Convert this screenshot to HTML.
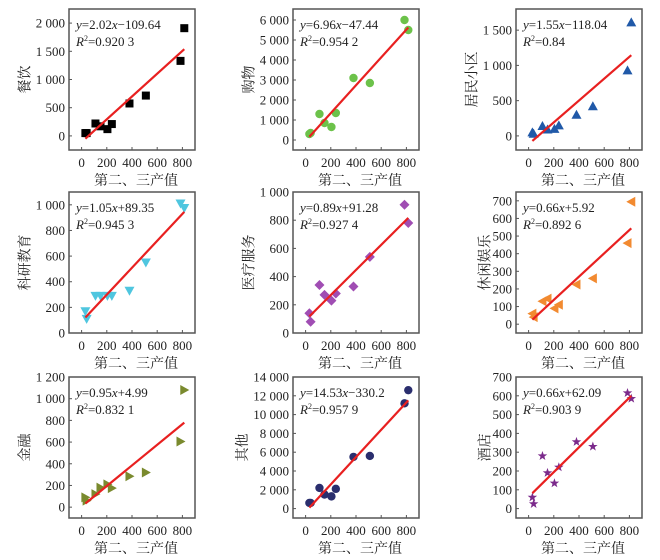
<!DOCTYPE html>
<html><head><meta charset="utf-8"><style>
body{margin:0;background:#fff}
svg text{font-family:"Liberation Serif","Noto Serif CJK SC",serif;fill:#222}
</style></head><body>
<svg id="c" width="660" height="555" xmlns="http://www.w3.org/2000/svg"></svg>
<script>
const xValues=[30,40,110,150,205,240,380,510,785,815];
const xTicks=[0,200,400,600,800];
const titles=["餐饮","购物","居民小区","科研教育","医疗服务","休闲娱乐","金融","其他","酒店"];
const yCatering=[50,50,220,170,120,210,575,715,1330,1910];
const yShopping=[300,350,1300,850,650,1350,3100,2850,6000,5500];
const yResidential=[50,30,140,90,100,150,300,420,930,1610];
const yScience=[170,110,290,290,290,290,330,550,1010,975];
const yMedical=[140,80,340,270,230,280,330,540,910,780];
const yLeisure=[60,40,130,145,90,110,225,260,460,695];
const yFinance=[90,60,120,180,210,175,285,320,605,1080];
const yOther=[600,600,2200,1500,1300,2100,5500,5600,11200,12600];
const yHotel=[60,25,280,190,135,220,355,330,615,585];
const slopes=[2.02,6.96,1.55,1.05,0.89,0.66,0.95,14.53,0.66];
const intercepts=[-109.64,-47.44,-118.04,89.35,91.28,5.92,4.99,-330.2,62.09];
const eqText=["2.02x−109.64","6.96x−47.44","1.55x−118.04","1.05x+89.35","0.89x+91.28","0.66x+5.92","0.95x+4.99","14.53x−330.2","0.66x+62.09"];
const r2Text=["0.920 3","0.954 2","0.84","0.945 3","0.927 4","0.892 6","0.832 1","0.957 9","0.903 9"];
const yTicks=[[0,500,1000,1500,2000],[0,1000,2000,3000,4000,5000,6000],[0,500,1000,1500],[0,200,400,600,800,1000],[0,200,400,600,800,1000],[0,100,200,300,400,500,600,700],[0,200,400,600,800,1000,1200],[0,2000,4000,6000,8000,10000,12000,14000],[0,100,200,300,400,500,600,700]];
const yDomains=[[-250,2250],[-500,6550],[-200,1800],[0,1100],[0,1000],[-50,750],[-100,1200],[-1000,14000],[-50,700]];
const series=[yCatering,yShopping,yResidential,yScience,yMedical,yLeisure,yFinance,yOther,yHotel];
const colors=["#000","#6cc24a","#2059a8","#4fc6df","#a04db3","#f28a30","#7a8a2e","#2a2e6e","#7b2a8b"];
const shapes=["square","circle","tri","tridown","diamond","trileft","triright","circle","star"];
const lefts=[69,293,516],tops=[9,192,377],W=126,H=141;
const svg=document.getElementById('c');const NS="http://www.w3.org/2000/svg";
function el(t,a,p){const e=document.createElementNS(NS,t);for(const k in a)e.setAttribute(k,a[k]);(p||svg).appendChild(e);return e;}
function fmt(v){return String(v).replace(/\B(?=(\d{3})+(?!\d))/g," ");}
function marker(g,s,x,y,c){
 if(s==="square")return el('rect',{x:x-4,y:y-4,width:8,height:8,fill:c},g);
 if(s==="circle")return el('circle',{cx:x,cy:y,r:4.2,fill:c},g);
 let pts;
 if(s==="tri")pts=[[x,y-5],[x-5,y+4],[x+5,y+4]];
 if(s==="tridown")pts=[[x,y+5],[x-5,y-4],[x+5,y-4]];
 if(s==="trileft")pts=[[x-5,y],[x+4,y-5],[x+4,y+5]];
 if(s==="triright")pts=[[x+5,y],[x-4,y-5],[x-4,y+5]];
 if(s==="diamond")pts=[[x,y-5],[x+5,y],[x,y+5],[x-5,y]];
 if(s==="star"){pts=[];for(let i=0;i<10;i++){const a=-Math.PI/2+i*Math.PI/5,rr=i%2?2:5;pts.push([x+rr*Math.cos(a),y+rr*Math.sin(a)]);}}
 return el('polygon',{points:pts.map(p=>p.join(',')).join(' '),fill:c},g);}
for(let i=0;i<9;i++){
 const L=lefts[i%3],T=tops[Math.floor(i/3)];
 const g=el('g',{});
 
 
 const [d0,d1]=yDomains[i];
 const sx=v=>L+(v+100)/1000*W, sy=v=>T+H-(v-d0)/(d1-d0)*H;
 const fr=el('rect',{x:L,y:T,width:W,height:H,fill:'none',stroke:'#555','stroke-width':1.5},g);
 
 
 xTicks.forEach(v=>{el('line',{x1:sx(v),x2:sx(v),y1:T+H,y2:T+H-3,stroke:'#555'},g);
  const t=el('text',{x:sx(v),y:T+H+17,'font-size':13,'text-anchor':'middle'},g);t.textContent=v;
  
  });
 let maxw=0;
 yTicks[i].forEach(v=>{el('line',{x1:L,x2:L+3,y1:sy(v),y2:sy(v),stroke:'#555'},g);
  const s=fmt(v);maxw=Math.max(maxw,s.length*6.5);
  const t=el('text',{x:L-4,y:sy(v)+4.5,'font-size':13,'text-anchor':'end'},g);t.textContent=s;
  
  });
 const xl=el('text',{x:L+W/2+4,y:T+H+35,'font-size':14,'text-anchor':'middle'},g);xl.textContent="第二、三产值";
 
 
 const yx=L-maxw-7,yy=T+H/2;
 const yl=el('text',{x:yx,y:yy,'font-size':14,'text-anchor':'middle',transform:`rotate(-90 ${yx} ${yy})`},g);yl.textContent=titles[i];
 
 
 const ys=series[i];
 xValues.forEach((xv,j)=>{const m=marker(g,shapes[i],sx(xv),sy(ys[j]),colors[i]);
  
  });
 const xa=30,xb=815;
 const ln=el('line',{x1:sx(xa),y1:sy(slopes[i]*xa+intercepts[i]),x2:sx(xb),y2:sy(slopes[i]*xb+intercepts[i]),stroke:'#e82020','stroke-width':2.2},g);
 
 
 const e=el('text',{x:L+7,y:T+20,'font-size':13},g);
 e.innerHTML='<tspan font-style="italic">y</tspan>='+eqText[i].replace('x','<tspan font-style="italic">x</tspan>');
 
 
 const r=el('text',{x:L+7,y:T+37,'font-size':13},g);
 r.innerHTML='<tspan font-style="italic">R</tspan><tspan font-size="8" dy="-5">2</tspan><tspan dy="5">='+r2Text[i]+'</tspan>';
 
 
}
</script>
</body></html>
